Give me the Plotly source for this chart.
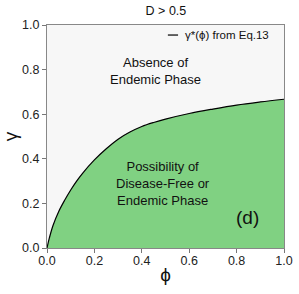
import plotly.graph_objects as go

phi = [0, 0.01, 0.025, 0.05, 0.075, 0.1, 0.125, 0.15, 0.2, 0.25, 0.3, 0.35, 0.4, 0.45, 0.5, 0.6, 0.7, 0.8, 0.9, 1.0]
gamma_star = [0, 0.045, 0.1, 0.165, 0.215, 0.26, 0.3, 0.335, 0.395, 0.445, 0.488, 0.52, 0.545, 0.563, 0.578, 0.603, 0.623, 0.641, 0.655, 0.667]
tick_vals = [0, 0.2, 0.4, 0.6, 0.8, 1.0]
tick_text = ["0.0", "0.2", "0.4", "0.6", "0.8", "1.0"]

font = "Liberation Sans, Arial, sans-serif"
green = "#80d182"
fig = go.Figure()
fig.add_trace(go.Scatter(x=phi, y=gamma_star, mode="lines", fill="tozeroy",
                         fillcolor=green, line=dict(color="black", width=1.2, shape="spline"),
                         showlegend=False, hoverinfo="skip"))

axis_common = dict(range=[0, 1], tickvals=tick_vals, ticktext=tick_text, ticks="outside",
                   ticklen=4, tickcolor="#777", showgrid=False, zeroline=False,
                   showline=True, linecolor="#888", linewidth=1, mirror=True, automargin=False,
                   tickfont=dict(family=font, size=12.5, color="#222"))
fig.update_xaxes(**axis_common, ticklabelstandoff=-3,
                 title=dict(text="ϕ", font=dict(family=font, size=19, color="#111"), standoff=0))
fig.update_yaxes(**axis_common, title=dict(text="γ", font=dict(family=font, size=19, color="#111"), standoff=8))

fig.update_layout(
    width=299, height=294,
    margin=dict(l=47, r=15, t=25, b=46),
    plot_bgcolor="#f7f7f7", paper_bgcolor="white",
    title=dict(text="D > 0.5", x=0.555, xanchor="center", y=0.965, yanchor="middle",
               font=dict(family=font, size=12.5, color="#111")),
    showlegend=False,
)

fig.add_shape(type="line", xref="paper", yref="paper", x0=0.51, x1=0.553, y0=0.955, y1=0.955,
              line=dict(color="black", width=1.2))
annots = [
    dict(x=0.572, y=0.955, text="γ*(ϕ) from Eq.13", xanchor="left", size=11.5),
    dict(x=0.456, y=0.794, text="Absence of<br>Endemic Phase", xanchor="center", size=13),
    dict(x=0.49, y=0.291, text="Possibility of<br>Disease-Free or<br>Endemic Phase", xanchor="center", size=13),
    dict(x=0.848, y=0.139, text="(d)", xanchor="center", size=19),
]
for a in annots:
    fig.add_annotation(x=a["x"], y=a["y"], xref="paper", yref="paper", text=a["text"],
                       xanchor=a["xanchor"], yanchor="middle", showarrow=False,
                       font=dict(family=font, size=a["size"], color="#111"))

fig.write_html("out.html", config={"displayModeBar": False},
               post_script="document.body.style.margin='0';")
